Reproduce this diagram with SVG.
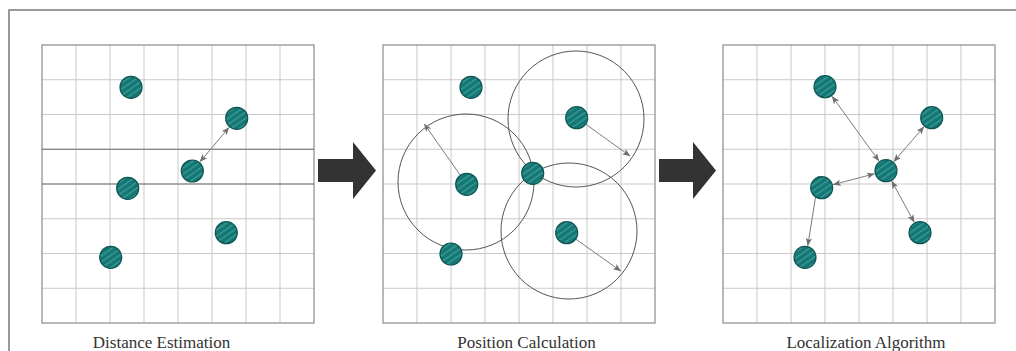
<svg xmlns="http://www.w3.org/2000/svg" xmlns:xlink="http://www.w3.org/1999/xlink" width="1016" height="351" viewBox="0 0 1016 351">
<style>
.frame{fill:none;stroke:#7a7a7a;stroke-width:1.5}
.gl{stroke:#c9c9c9;stroke-width:1;fill:none}
.gb{stroke:#8a8a8a;stroke-width:1.2;fill:none}
.dark{stroke:#6e6e6e;stroke-width:1.2}
.node{fill:url(#hatch);stroke:#0d5553;stroke-width:1.2}
.rng{fill:none;stroke:#555;stroke-width:1}
.lnk{stroke:#7d7d7d;stroke-width:1;fill:none}
.big{fill:#333}
.lbl{font-family:"Liberation Serif","Times New Roman",serif;font-size:17px;fill:#333;text-anchor:middle}
</style>
<defs>
<pattern id="hatch" patternUnits="userSpaceOnUse" width="5" height="5" patternTransform="rotate(-35)">
<rect width="5" height="5" fill="#157774"/>
<rect width="5" height="1.3" y="2" fill="#3b9d97"/>
</pattern>
<marker id="ah" viewBox="0 0 10 8" refX="9.5" refY="4" markerWidth="8" markerHeight="6.4" markerUnits="userSpaceOnUse" orient="auto-start-reverse">
<path d="M0,0 L10,4 L0,8 L2.5,4 Z" fill="#6e6e6e"/>
</marker>
<g id="grid">
<path class="gl" d="M34,0V278M68,0V278M102,0V278M136,0V278M170,0V278M204,0V278M238,0V278M0,34.75H272M0,69.5H272M0,104.25H272M0,139H272M0,173.75H272M0,208.5H272M0,243.25H272"/>
<rect class="gb" x="0" y="0" width="272" height="278"/>
</g>
</defs>
<path class="frame" d="M9,351V10H1016"/>
<g id="panel-distance">
<use xlink:href="#grid" x="42" y="45"/>
<path class="dark" d="M42,149.25H314M42,184H314"/>
</g>
<g id="panel-position">
<use xlink:href="#grid" x="383" y="45"/>
<circle class="rng" cx="466" cy="182" r="68"/>
<circle class="rng" cx="576" cy="119" r="68"/>
<circle class="rng" cx="569" cy="231" r="68"/>
</g>
<g id="panel-localization">
<use xlink:href="#grid" x="723" y="45"/>
</g>
<g id="flow-arrows">
<path class="big" d="M318,159H353V142L376,170.5L353,199V182H318Z"/>
<path class="big" d="M659,159H693V142L716,170.5L693,199V182H659Z"/>
</g>
<g id="connectors">
<line class="lnk" x1="200" y1="161.8" x2="229" y2="127.5" marker-start="url(#ah)" marker-end="url(#ah)"/>
<line class="lnk" x1="466.7" y1="184.3" x2="424.3" y2="124" marker-end="url(#ah)"/>
<line class="lnk" x1="576.7" y1="117.7" x2="630" y2="156" marker-end="url(#ah)"/>
<line class="lnk" x1="566.7" y1="232.7" x2="620.7" y2="271" marker-end="url(#ah)"/>
<line class="lnk" x1="832.1" y1="96.4" x2="878.9" y2="161" marker-start="url(#ah)" marker-end="url(#ah)"/>
<line class="lnk" x1="923.9" y1="126.8" x2="893.8" y2="161.6" marker-start="url(#ah)" marker-end="url(#ah)"/>
<line class="lnk" x1="833.3" y1="184.6" x2="874.4" y2="173.8" marker-start="url(#ah)" marker-end="url(#ah)"/>
<line class="lnk" x1="914.2" y1="222.2" x2="891.8" y2="181.2" marker-start="url(#ah)" marker-end="url(#ah)"/>
<line class="lnk" x1="807.8" y1="245.6" x2="818.9" y2="176" marker-start="url(#ah)" marker-end="url(#ah)"/>
</g>
<g id="nodes-distance">
<circle id="d1" class="node" cx="131" cy="87.3" r="11"/>
<circle id="d2" class="node" cx="236.7" cy="118.3" r="11"/>
<circle id="d3" class="node" cx="192.3" cy="171" r="11"/>
<circle id="d4" class="node" cx="127.7" cy="188.3" r="11"/>
<circle id="d5" class="node" cx="226.3" cy="232.7" r="11"/>
<circle id="d6" class="node" cx="110.7" cy="257.3" r="11"/>
</g>
<g id="nodes-position">
<circle id="p1" class="node" cx="471" cy="87.3" r="11"/>
<circle id="p2" class="node" cx="576.7" cy="117.7" r="11"/>
<circle id="p3" class="node" cx="532.7" cy="173.3" r="11"/>
<circle id="p4" class="node" cx="466.7" cy="184.3" r="11"/>
<circle id="p5" class="node" cx="566.7" cy="232.7" r="11"/>
<circle id="p6" class="node" cx="451" cy="254" r="11"/>
</g>
<g id="nodes-localization">
<circle id="l1" class="node" cx="825" cy="86.7" r="11"/>
<circle id="l2" class="node" cx="931.7" cy="117.7" r="11"/>
<circle id="l3" class="node" cx="886" cy="170.7" r="11"/>
<circle id="l4" class="node" cx="821.7" cy="187.7" r="11"/>
<circle id="l5" class="node" cx="920" cy="232.7" r="11"/>
<circle id="l6" class="node" cx="805" cy="257.3" r="11"/>
</g>
<g id="labels">
<text class="lbl" x="161.5" y="348">Distance Estimation</text>
<text class="lbl" x="526.5" y="348">Position Calculation</text>
<text class="lbl" x="866" y="348">Localization Algorithm</text>
</g>
</svg>
